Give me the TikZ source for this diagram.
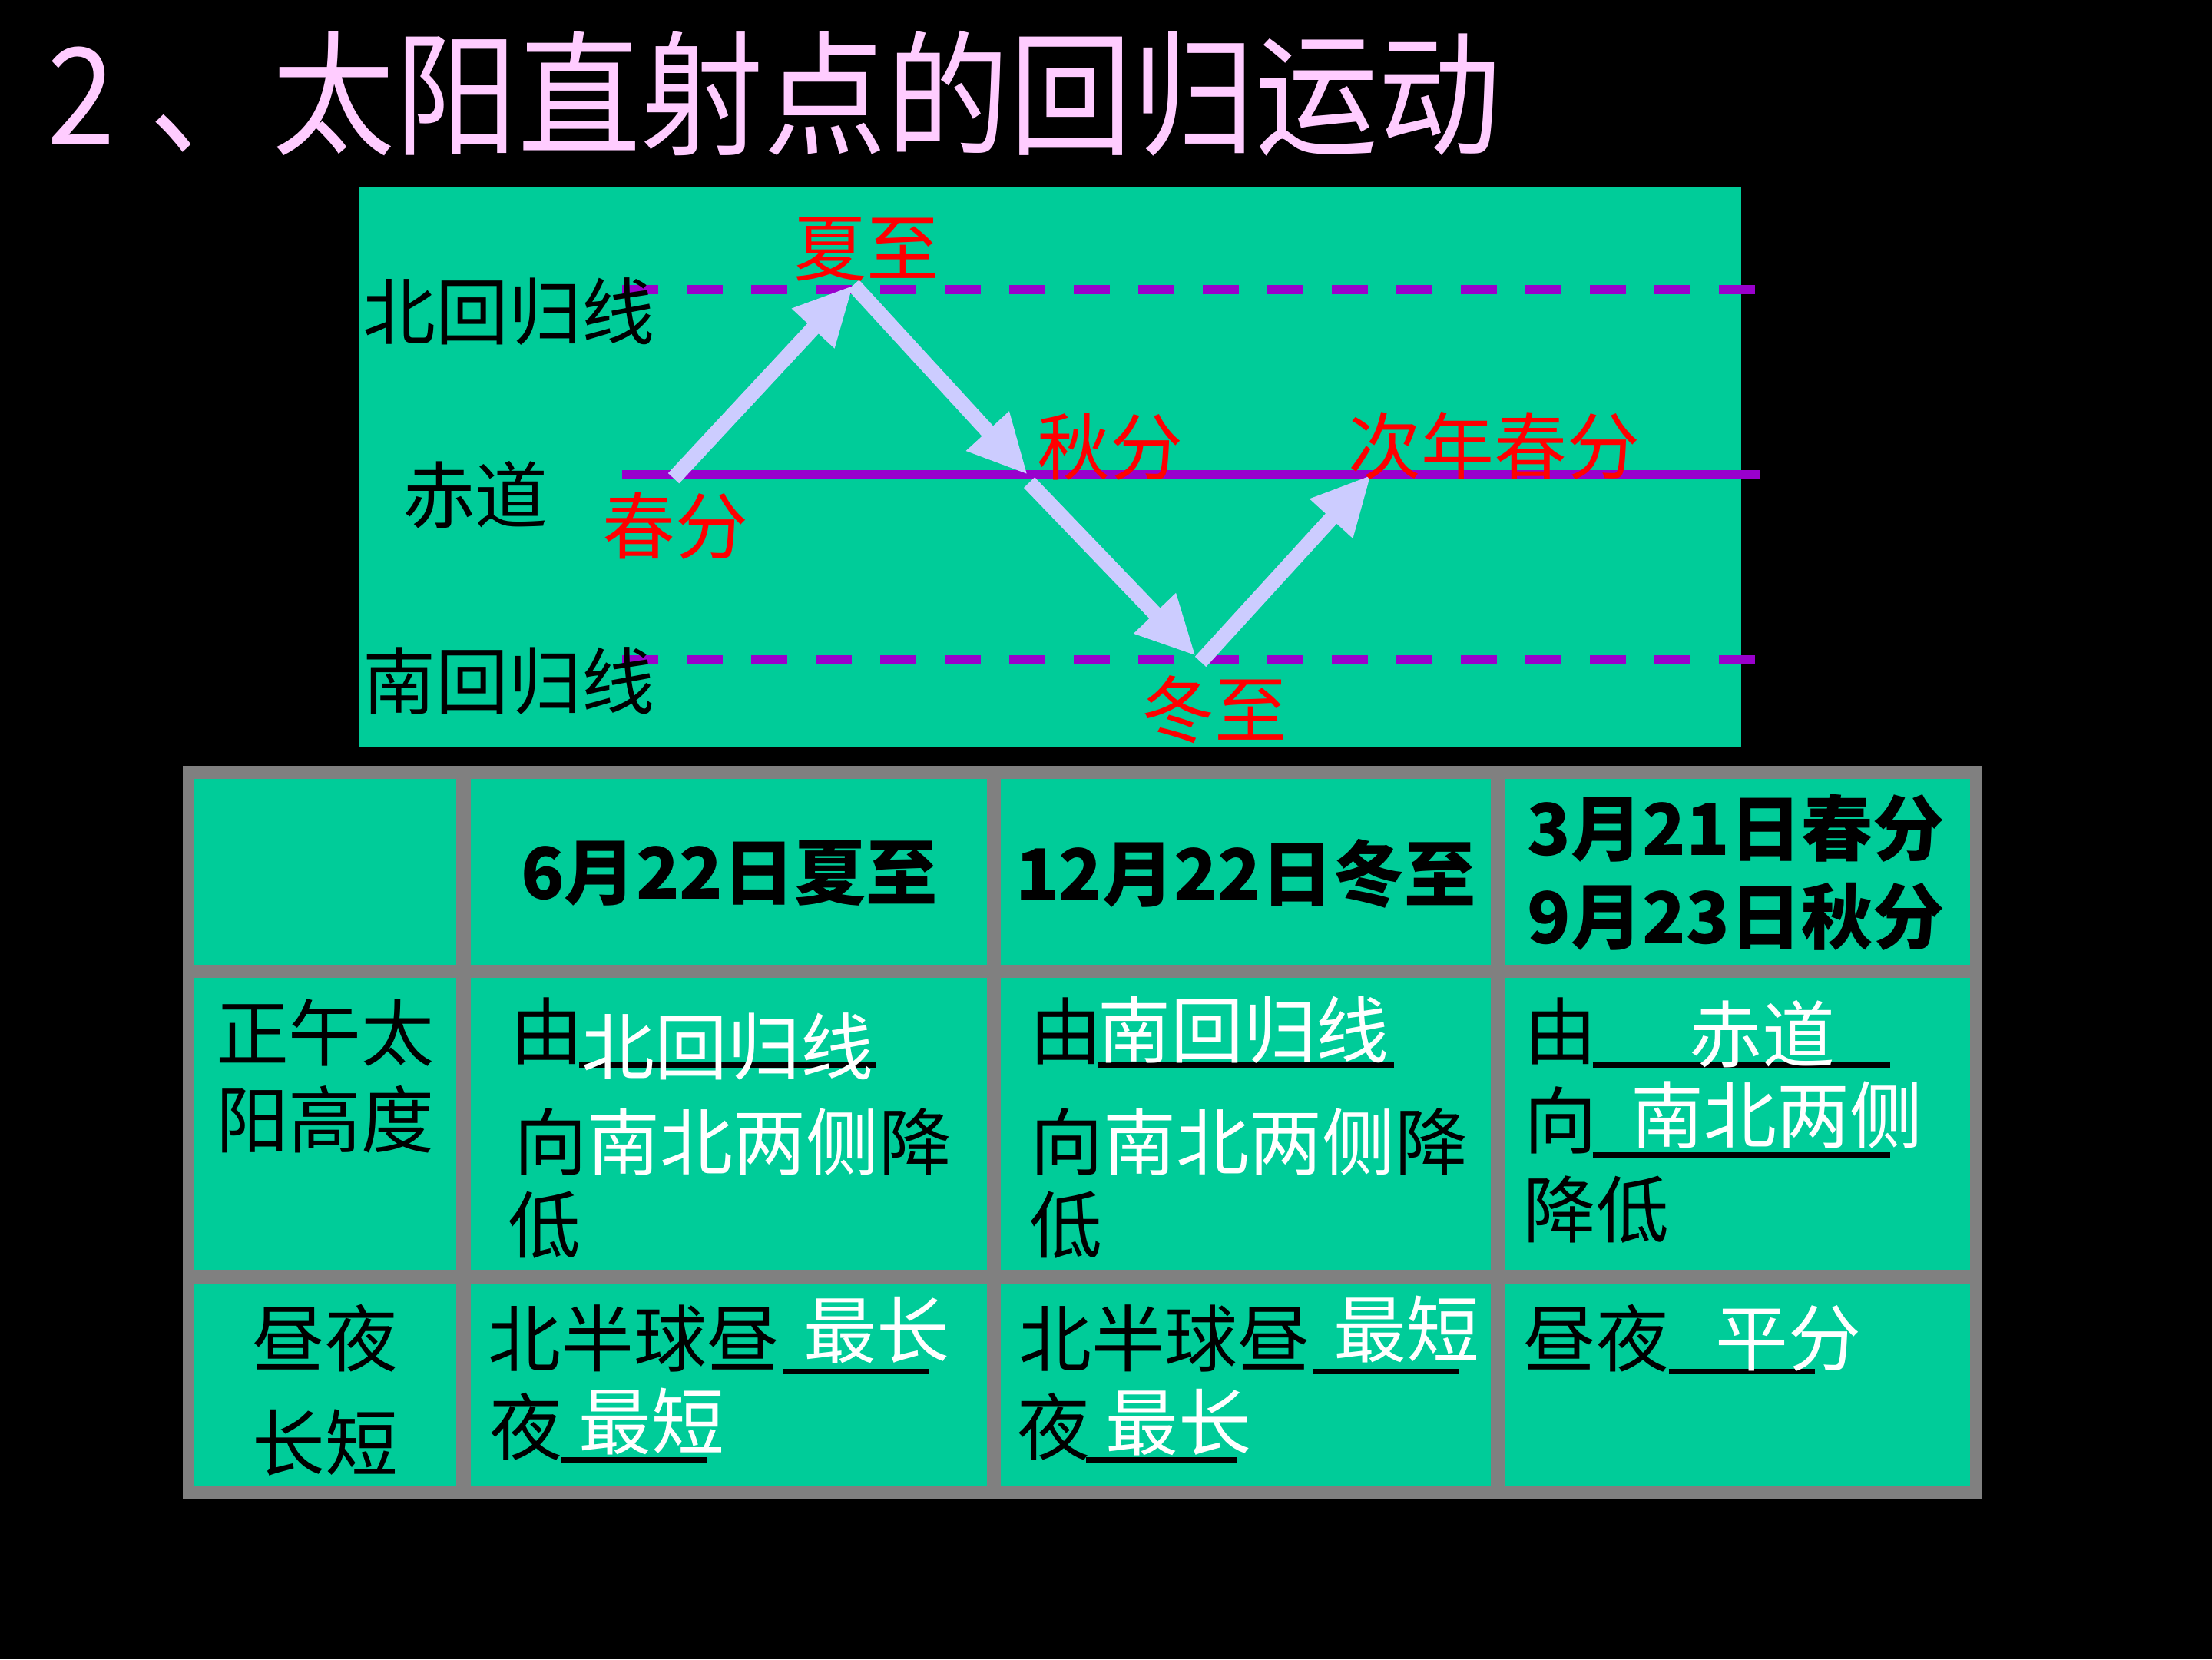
\documentclass[tikz,border=0pt]{standalone}
\usepackage{fontspec}
\usetikzlibrary{arrows.meta}
\newfontfamily\cjk{Noto Sans CJK SC}
\definecolor{panelgreen}{RGB}{0,204,153}
\definecolor{tropicpurple}{RGB}{153,0,204}
\definecolor{seasonred}{RGB}{255,0,0}
\definecolor{pathlav}{RGB}{204,204,255}
\definecolor{titlepink}{RGB}{255,204,255}
\definecolor{framegray}{RGB}{128,128,128}
\newcommand{\fillin}[1]{\textcolor{white}{#1}}

\begin{document}
\begin{tikzpicture}[
    x=1.8367mm, y=-1.8367mm,
    title/.style={anchor=west, inner sep=0pt, text=titlepink,
        font=\cjk\fontsize{50}{60}\selectfont},
    lbl/.style={inner sep=0pt, text=black, font=\cjk\fontsize{27}{32}\selectfont},
    season/.style={lbl, text=seasonred},
    answer/.style={lbl, text=white},
    head/.style={lbl, font=\cjk\bfseries\fontsize{26.5}{32}\selectfont},
    tropicline/.style={draw=tropicpurple, line width=3.4pt, dash pattern=on 13.4pt off 10.5pt},
    equatorline/.style={draw=tropicpurple, line width=3.4pt},
    sunpath/.style={draw=pathlav, fill=pathlav, line width=5.6pt,
        -{Triangle[length=22pt, width=20pt]}},
    blankline/.style={draw=black, line width=2pt}
]
    \useasboundingbox (0,0) rectangle (156.8,117.6);
    \fill[black] (0,0) rectangle (156.8,117.6);

    % Title
    \node[title] (heading) at (3.3,6.6)
        {\scalebox{0.91}[1]{2\hspace{14pt}、太阳直射点的回归运动}};

    % Diagram panel
    \fill[panelgreen] (25.4,13.25) rectangle (123.45,52.9);
    \draw[tropicline]  (44.1,20.53) -- (124.5,20.53);
    \draw[equatorline] (44.1,33.66) -- (124.75,33.66);
    \draw[tropicline]  (44.1,46.75) -- (124.5,46.75);

    \node[lbl] (cancer)    at (36.05,22.1)  {北回归线};
    \node[lbl] (equator)   at (33.7,35.05)  {赤道};
    \node[lbl] (capricorn) at (36.05,48.27) {南回归线};

    % Path of the direct point
    \coordinate (chunfen)  at (47.75,33.9);
    \coordinate (xiazhi)   at (60.5,20.2);
    \coordinate (qiufen)   at (72.85,33.65);
    \coordinate (qiufenB)  at (72.96,34.2);
    \coordinate (dongzhi)  at (84.77,46.5);
    \coordinate (dongzhiB) at (85.1,46.9);
    \coordinate (cichun)   at (97.2,33.65);

    \draw[sunpath] (chunfen) -- (xiazhi);
    \draw[sunpath] (xiazhi) -- (qiufen);
    \draw[sunpath] (qiufenB) -- (dongzhi);
    \draw[sunpath] (dongzhiB) -- (cichun);

    \node[season] (summerlbl) at (61.45,17.65) {夏至};
    \node[season] (autumnlbl) at (78.7,31.65)  {秋分};
    \node[season] (nextlbl)   at (105.9,31.6)  {次年春分};
    \node[season] (springlbl) at (47.86,37.27) {春分};
    \node[season] (winterlbl) at (86.1,50.3)   {冬至};

    % Table
    \fill[framegray] (12.94,54.27) rectangle (140.47,106.3);
    \foreach \xa/\xb in {13.77/32.35, 33.4/69.96, 70.94/105.68, 106.66/139.66}
        \foreach \ya/\yb in {55.18/68.4, 69.3/90.0, 90.96/105.35}
            \fill[panelgreen] (\xa,\ya) rectangle (\xb,\yb);

    % Header row
    \node[head] (summerhd) at (51.7,61.9)   {6月22日夏至};
    \node[head] (winterhd) at (88.3,61.9)   {12月22日冬至};
    \node[head] (springhd) at (123.05,58.7) {3月21日春分};
    \node[head] (autumnhd) at (123.05,65.0) {9月23日秋分};

    % Noon altitude row
    \node[lbl] (altA) at (23.05,73.2)  {正午太};
    \node[lbl] (altB) at (23.05,79.35) {阳高度};

    \node[lbl]    (fromS) at (38.78,73.1)  {由};
    \draw[blankline] (41.05,75.5) -- (62.1,75.5);
    \node[answer] (ansS1) at (51.58,74.18) {北回归线};
    \node[lbl]    (toS)   at (51.97,80.95) {向\fillin{南北两侧}降};
    \node[lbl]    (lowS)  at (38.6,86.85)  {低};

    \node[lbl]    (fromW) at (75.55,73.1)  {由};
    \draw[blankline] (77.8,75.5) -- (98.8,75.5);
    \node[answer] (ansW1) at (88.15,72.96) {南回归线};
    \node[lbl]    (toW)   at (88.55,80.95) {向\fillin{南北两侧}降};
    \node[lbl]    (lowW)  at (75.55,86.85) {低};

    \node[lbl]    (fromE) at (110.65,73.1) {由};
    \draw[blankline] (112.9,75.5) -- (134.0,75.5);
    \node[answer] (ansE1) at (124.9,73.3)  {赤道};
    \node[lbl]    (toE)   at (110.65,79.4) {向};
    \draw[blankline] (112.9,81.85) -- (134.0,81.85);
    \node[answer] (ansE2) at (125.95,79.05) {南北两侧};
    \node[lbl]    (lowE)  at (113.15,85.75) {降低};

    % Day length row
    \node[lbl] (dayA) at (23.05,94.85)  {昼夜};
    \node[lbl] (dayB) at (23.05,102.25) {长短};

    \node[lbl]    (dayS)   at (44.95,94.85) {北半球昼};
    \draw[blankline] (55.5,97.2) -- (65.8,97.2);
    \node[answer] (ansS2)  at (62.15,94.3)  {最长};
    \node[lbl]    (nightS) at (37.3,101.1)  {夜};
    \draw[blankline] (39.8,103.45) -- (50.15,103.45);
    \node[answer] (ansS3)  at (46.2,100.75) {最短};

    \node[lbl]    (dayW)   at (82.55,94.85) {北半球昼};
    \draw[blankline] (93.1,97.2) -- (103.45,97.2);
    \node[answer] (ansW2)  at (99.7,94.2)   {最短};
    \node[lbl]    (nightW) at (74.7,101.1)  {夜};
    \draw[blankline] (77.0,103.45) -- (87.7,103.45);
    \node[answer] (ansW3)  at (83.55,100.8) {最长};

    \node[lbl]    (dayE)   at (113.15,94.85) {昼夜};
    \draw[blankline] (118.3,97.2) -- (128.65,97.2);
    \node[answer] (ansE3)  at (126.75,94.85) {平分};
\end{tikzpicture}
\end{document}
